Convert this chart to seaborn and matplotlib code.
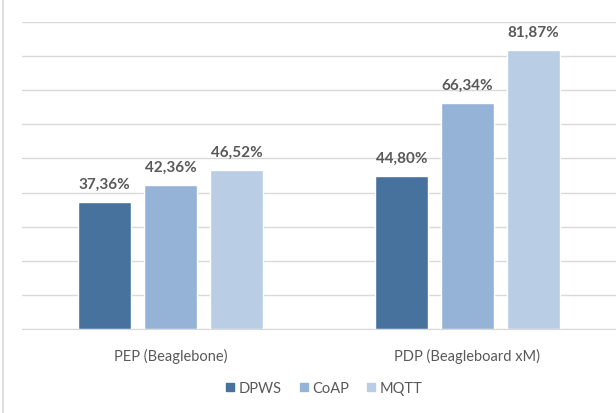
import matplotlib.pyplot as plt
import matplotlib.lines as mlines
import pandas as pd
import seaborn as sns

groups = ['PEP (Beaglebone)', 'PDP (Beagleboard xM)']
protocols = ['DPWS', 'CoAP', 'MQTT']
dpws = [37.36, 44.80]
coap = [42.36, 66.34]
mqtt = [46.52, 81.87]
colors = ['#47729E', '#95B3D7', '#B9CDE5']

rows = []
for name, vals in zip(protocols, [dpws, coap, mqtt]):
    for g, v in zip(groups, vals):
        rows.append({'group': g, 'protocol': name, 'value': v})
df = pd.DataFrame(rows)

sns.set_style('white')
plt.rcParams['font.family'] = ['Lato', 'DejaVu Sans']

fig = plt.figure(figsize=(6.16, 4.14), dpi=100)
ax = fig.add_axes([22 / 616, 1 - 330 / 414, 1 - 22 / 616, (330 - 23) / 414])

sns.barplot(data=df, x='group', y='value', hue='protocol', hue_order=protocols,
            order=groups, palette=colors, width=0.667, gap=0.21,
            saturation=1, ax=ax, legend=False, zorder=3)

ax.set_ylim(0, 90)
ax.set_xlim(-0.5, 1.5)
ax.set_yticks(range(0, 91, 10))
ax.yaxis.grid(True, color='#d9d9d9', linewidth=1)
ax.set_axisbelow(True)
ax.tick_params(axis='y', left=False, labelleft=False)
ax.tick_params(axis='x', bottom=False, labelsize=10.5, labelcolor='#595959', pad=10)
for s in ['top', 'right', 'left']:
    ax.spines[s].set_visible(False)
ax.spines['bottom'].set_color('#d9d9d9')
ax.set_xlabel('')
ax.set_ylabel('')

for cont in ax.containers:
    labels = [f'{b.get_height():.2f}%'.replace('.', ',') for b in cont]
    ax.bar_label(cont, labels=labels, padding=8, fontsize=11, fontweight='bold',
                 color='#595959')

handles = [mlines.Line2D([], [], marker='s', linestyle='', markersize=5.5,
                         color=c) for c in colors]
fig.legend(handles, protocols, loc='center', bbox_to_anchor=(322 / 616, 1 - 389 / 414),
           ncol=3, frameon=False, fontsize=10.5, labelcolor='#595959',
           handletextpad=0.0, columnspacing=0.9, handlelength=1.2)

fig.add_artist(mlines.Line2D([3 / 616, 3 / 616], [0, 1], color='#d9d9d9', linewidth=1.2))

fig.savefig('out.png', dpi=100)
